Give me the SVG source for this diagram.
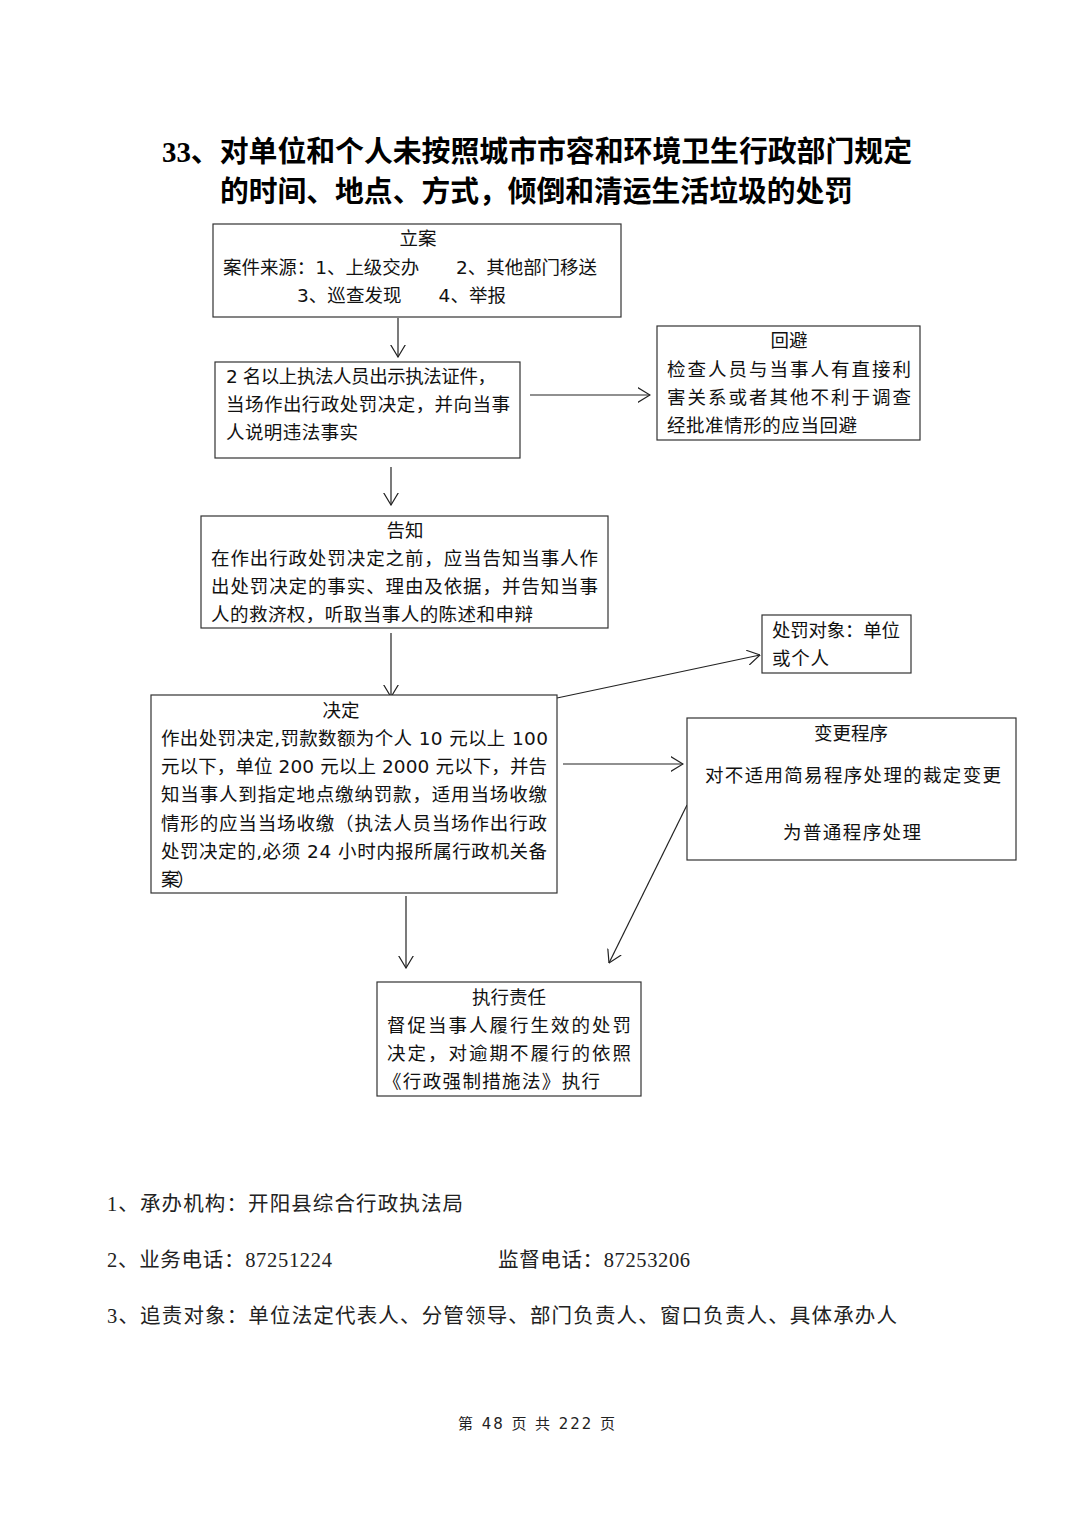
<svg xmlns="http://www.w3.org/2000/svg" width="1074" height="1520" viewBox="0 0 1074 1520">
<style>
.bg{fill:#fff}
.box{fill:#fff;stroke:#333;stroke-width:1.2}
.t{font-family:"DejaVu Sans","Noto Sans CJK SC",sans-serif;font-size:18.5px;fill:#111}
.c{text-anchor:middle}
.title{font-family:"Liberation Serif","Noto Sans CJK SC",serif;font-size:29px;font-weight:bold;fill:#000}
.foot{font-family:"Liberation Serif","Noto Sans CJK SC",serif;font-size:20.5px;fill:#222}
.pg{font-family:"DejaVu Sans","Noto Sans CJK SC",sans-serif;font-size:15px;fill:#222}
.ln{stroke:#222;stroke-width:1.2;fill:none;marker-end:url(#ah)}
</style>
<defs>
<marker id="ah" markerUnits="userSpaceOnUse" viewBox="0 0 13 16" refX="12.5" refY="8" markerWidth="13" markerHeight="16" orient="auto">
<path d="M0,0.5 L12.5,8 L0,15.5" fill="none" stroke="#222" stroke-width="1.2"/>
</marker>
</defs>
<rect class="bg" x="0" y="0" width="1074" height="1520"/>
<g id="title">
<text class="title" x="162" y="162" textLength="750" lengthAdjust="spacingAndGlyphs">33、对单位和个人未按照城市市容和环境卫生行政部门规定</text>
<text class="title" x="220" y="202" textLength="633" lengthAdjust="spacingAndGlyphs">的时间、地点、方式，倾倒和清运生活垃圾的处罚</text>
</g>
<g id="connectors">
<line class="ln" x1="398" y1="318" x2="398" y2="357"/>
<line class="ln" x1="530" y1="395" x2="650" y2="395"/>
<line class="ln" x1="391" y1="467" x2="391" y2="505"/>
<line class="ln" x1="391" y1="633" x2="391" y2="697"/>
<line class="ln" x1="557" y1="698" x2="760" y2="655"/>
<line class="ln" x1="563" y1="764" x2="683" y2="764"/>
<line class="ln" x1="687" y1="805" x2="609" y2="963"/>
<line class="ln" x1="406" y1="896" x2="406" y2="968"/>
</g>
<g id="node-lian">
<rect class="box" x="213" y="224" width="408" height="93"/>
<text class="t c" x="418" y="245">立案</text>
<text class="t" x="223" y="274" textLength="374">案件来源：1、上级交办　　2、其他部门移送</text>
<text class="t" x="297" y="302" textLength="209">3、巡查发现　　4、举报</text>
</g>
<g id="node-zhifa">
<rect class="box" x="215" y="362" width="305" height="96"/>
<text class="t" x="226" y="383" textLength="270">2 名以上执法人员出示执法证件，</text>
<text class="t" x="226" y="411" textLength="284">当场作出行政处罚决定，并向当事</text>
<text class="t" x="226" y="439" textLength="132">人说明违法事实</text>
</g>
<g id="node-huibi">
<rect class="box" x="657" y="326" width="263" height="114"/>
<text class="t c" x="789" y="347">回避</text>
<text class="t" x="667" y="376" textLength="244">检查人员与当事人有直接利</text>
<text class="t" x="667" y="404" textLength="244">害关系或者其他不利于调查</text>
<text class="t" x="667" y="432" textLength="190">经批准情形的应当回避</text>
</g>
<g id="node-gaozhi">
<rect class="box" x="201" y="516" width="407" height="112"/>
<text class="t c" x="405" y="537">告知</text>
<text class="t" x="211" y="565" textLength="387">在作出行政处罚决定之前，应当告知当事人作</text>
<text class="t" x="211" y="593" textLength="387">出处罚决定的事实、理由及依据，并告知当事</text>
<text class="t" x="211" y="621" textLength="322">人的救济权，听取当事人的陈述和申辩</text>
</g>
<g id="node-duixiang">
<rect class="box" x="762" y="615" width="149" height="58"/>
<text class="t" x="772" y="637" textLength="128">处罚对象：单位</text>
<text class="t" x="772" y="665" textLength="57">或个人</text>
</g>
<g id="node-jueding">
<rect class="box" x="151" y="695" width="406" height="198"/>
<text class="t c" x="341" y="717">决定</text>
<text class="t" x="161" y="745" textLength="387">作出处罚决定,罚款数额为个人 10 元以上 100</text>
<text class="t" x="161" y="773" textLength="386">元以下，单位 200 元以上 2000 元以下，并告</text>
<text class="t" x="161" y="801" textLength="386">知当事人到指定地点缴纳罚款，适用当场收缴</text>
<text class="t" x="161" y="830" textLength="386">情形的应当当场收缴（执法人员当场作出行政</text>
<text class="t" x="161" y="858" textLength="386">处罚决定的,必须 24 小时内报所属行政机关备</text>
<text class="t" x="161" y="886" textLength="34">案）</text>
</g>
<g id="node-biangeng">
<rect class="box" x="687" y="718" width="329" height="142"/>
<text class="t c" x="851" y="740">变更程序</text>
<text class="t" x="705" y="782" textLength="296">对不适用简易程序处理的裁定变更</text>
<text class="t" x="783" y="839" textLength="138">为普通程序处理</text>
</g>
<g id="node-zhixing">
<rect class="box" x="377" y="982" width="264" height="114"/>
<text class="t c" x="509" y="1004">执行责任</text>
<text class="t" x="387" y="1032" textLength="244">督促当事人履行生效的处罚</text>
<text class="t" x="387" y="1060" textLength="244">决定，对逾期不履行的依照</text>
<text class="t" x="383" y="1088" textLength="217">《行政强制措施法》执行</text>
</g>
<g id="footer">
<text class="foot" x="107" y="1211" textLength="356">1、承办机构：开阳县综合行政执法局</text>
<text class="foot" x="107" y="1267" textLength="225">2、业务电话：87251224</text>
<text class="foot" x="498" y="1267" textLength="192">监督电话：87253206</text>
<text class="foot" x="107" y="1323" textLength="790">3、追责对象：单位法定代表人、分管领导、部门负责人、窗口负责人、具体承办人</text>
<text class="pg" x="458" y="1429" textLength="157">第 48 页 共 222 页</text>
</g>
</svg>
